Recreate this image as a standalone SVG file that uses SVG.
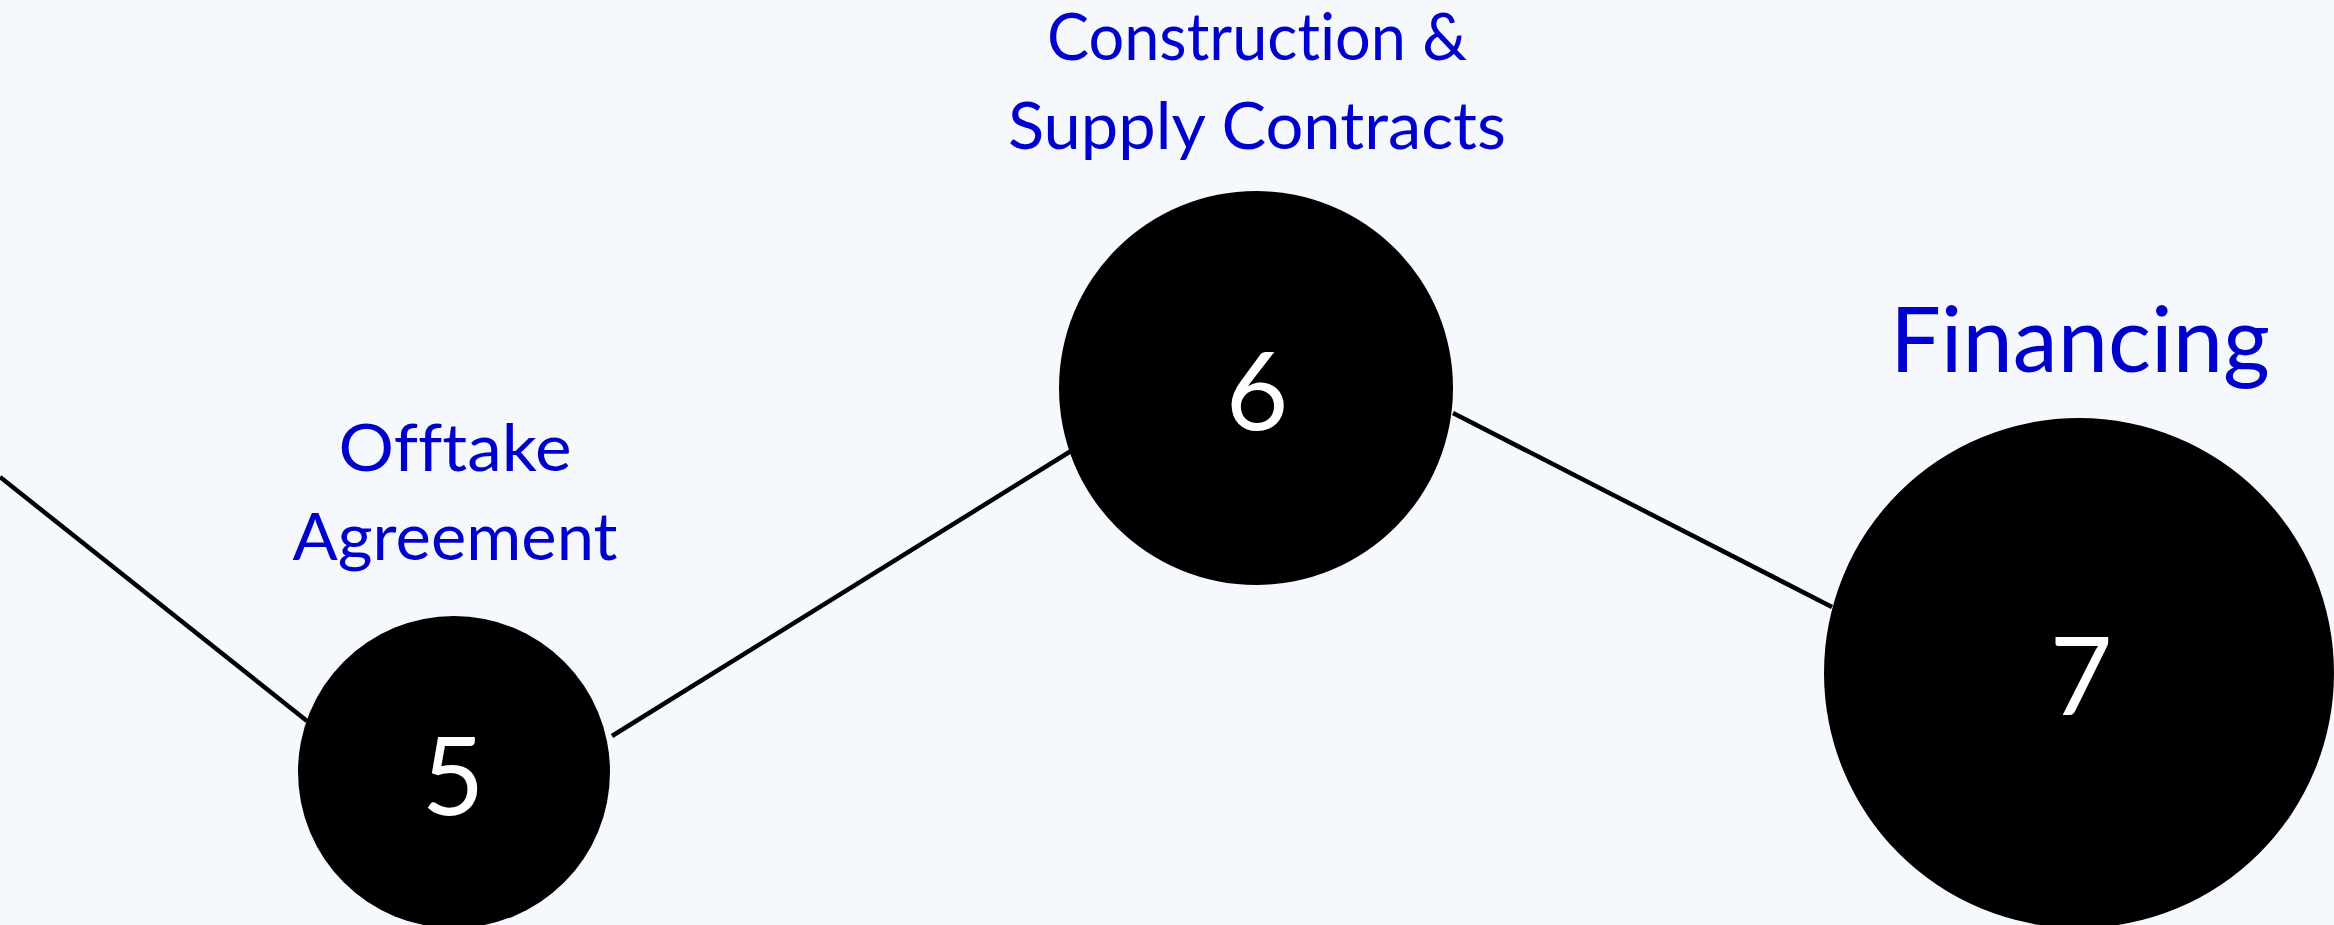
<svg xmlns="http://www.w3.org/2000/svg" width="2334" height="925" viewBox="0 0 2334 925">
<style>
.bg{fill:#F5F9FE}
.node{fill:#000000}
.num{fill:#FFFFFF;font-family:Lato,"Noto Sans",sans-serif;font-size:108px;text-anchor:middle;font-variant-ligatures:none}
.lbl{fill:#0000CC;font-family:Lato,"Noto Sans",sans-serif;font-size:66px;text-anchor:middle;font-variant-ligatures:none;font-feature-settings:"liga" 0,"clig" 0,"dlig" 0}
.big{font-size:92px}
.edge{stroke:#000000;stroke-width:4.5;fill:none}
</style>
<rect class="bg" x="0" y="0" width="2334" height="925"/>
<g id="connectors">
<line class="edge" x1="0" y1="477" x2="307" y2="721"/>
<line class="edge" x1="612" y1="736" x2="1071" y2="451"/>
<line class="edge" x1="1453" y1="413" x2="1832" y2="607"/>
</g>
<g id="node5">
<circle class="node" cx="454" cy="772" r="156"/>
<text class="num" x="453" y="815">5</text>
<text class="lbl" x="455" y="471" textLength="233" lengthAdjust="spacingAndGlyphs">Offtake</text>
<text class="lbl" x="455" y="560" textLength="325" lengthAdjust="spacingAndGlyphs">Agreement</text>
</g>
<g id="node6">
<circle class="node" cx="1256" cy="388" r="197"/>
<text class="num" x="1257" y="430">6</text>
<text class="lbl" x="1257" y="60" textLength="420" lengthAdjust="spacingAndGlyphs">Construction &amp;</text>
<text class="lbl" x="1257" y="149" textLength="498" lengthAdjust="spacingAndGlyphs">Supply Contracts</text>
</g>
<g id="node7">
<circle class="node" cx="2079" cy="673" r="255"/>
<text class="num" x="2081" y="715">7</text>
<text class="lbl big" x="2080" y="372" textLength="380" lengthAdjust="spacingAndGlyphs">Financing</text>
</g>
</svg>
